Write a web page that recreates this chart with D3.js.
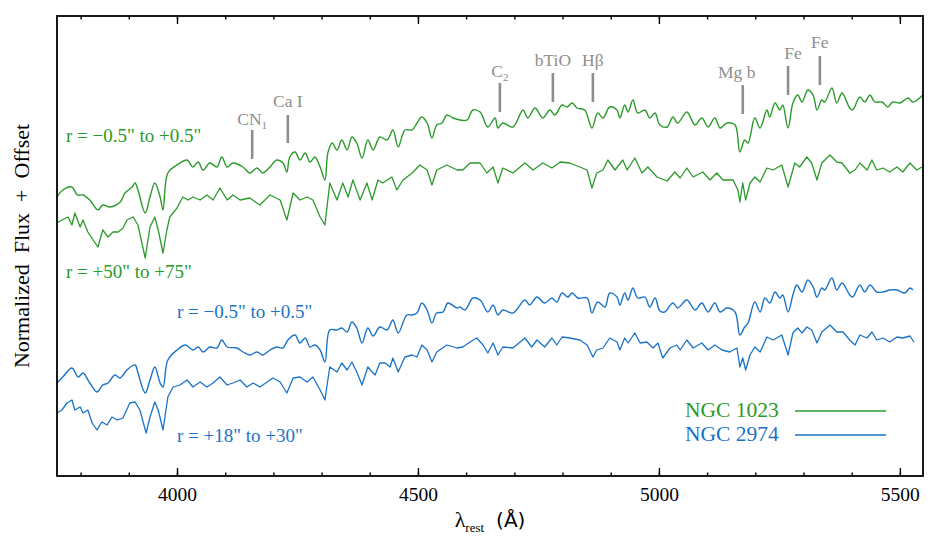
<!DOCTYPE html>
<html><head><meta charset="utf-8">
<script src="https://cdn.jsdelivr.net/npm/d3@7"></script>
<style>
html,body{margin:0;padding:0;background:#fff;}
svg{display:block;}
svg text{font-family:"Liberation Serif","Tinos","Times New Roman","DejaVu Serif",serif;}
</style></head>
<body>
<svg id="chart" width="941" height="549"></svg>
<script>
// ---------- DATA ----------
// wavelength (Å) , normalized flux + offset
const ngc1023Core = [
[3751,2.79],[3763,2.86],[3782,2.89],[3793,2.81],[3805,2.81],[3819,2.76],[3836,2.66],[3846,2.71],[3861,2.69],[3882,2.74],
[3892,2.83],[3907,2.89],[3913,2.93],[3919,2.86],[3934,2.63],[3944,2.79],[3954,2.93],[3965,2.79],[3971,2.66],[3981,3.03],
[4000,3.11],[4021,3.16],[4033,3.09],[4044,3.14],[4054,3.06],[4068,3.13],[4083,3.09],[4093,3.19],[4104,3.09],[4116,3.13],
[4137,3.09],[4151,3.03],[4166,3.08],[4178,3.03],[4193,3.09],[4207,3.16],[4220,3.13],[4228,3.04],[4234,3.19],[4245,3.24],
[4255,3.16],[4266,3.23],[4276,3.14],[4286,3.19],[4297,3.09],[4307,2.96],[4313,3.23],[4322,3.33],[4332,3.26],[4342,3.36],
[4353,3.26],[4363,3.39],[4373,3.33],[4384,3.18],[4396,3.36],[4407,3.26],[4421,3.39],[4436,3.36],[4448,3.46],[4459,3.29],
[4473,3.46],[4488,3.46],[4498,3.53],[4508,3.59],[4519,3.53],[4529,3.38],[4539,3.51],[4550,3.53],[4560,3.61],[4573,3.58],
[4587,3.56],[4602,3.56],[4614,3.66],[4629,3.64],[4645,3.49],[4660,3.58],[4666,3.48],[4676,3.53],[4697,3.49],[4718,3.66],
[4728,3.58],[4743,3.68],[4759,3.58],[4774,3.66],[4784,3.61],[4799,3.71],[4809,3.69],[4820,3.73],[4830,3.68],[4846,3.66],
[4861,3.48],[4873,3.63],[4884,3.58],[4898,3.69],[4913,3.66],[4919,3.58],[4929,3.71],[4936,3.64],[4946,3.76],[4956,3.63],
[4971,3.66],[4981,3.58],[4992,3.63],[5002,3.51],[5017,3.49],[5029,3.59],[5039,3.53],[5058,3.64],[5075,3.51],[5089,3.58],
[5102,3.49],[5116,3.58],[5127,3.48],[5141,3.53],[5158,3.51],[5168,3.24],[5178,3.36],[5185,3.33],[5199,3.58],[5210,3.48],
[5224,3.66],[5230,3.59],[5241,3.73],[5251,3.66],[5257,3.71],[5268,3.48],[5278,3.73],[5288,3.81],[5297,3.74],[5309,3.86],
[5320,3.81],[5328,3.66],[5338,3.76],[5344,3.74],[5359,3.88],[5369,3.73],[5380,3.83],[5396,3.68],[5402,3.66],[5417,3.79],
[5427,3.74],[5438,3.81],[5448,3.74],[5463,3.74],[5475,3.69],[5485,3.74],[5500,3.73],[5517,3.78],[5527,3.74],[5548,3.81]
];
const ngc1023Outer = [
[3751,2.53],[3761,2.56],[3774,2.59],[3782,2.51],[3788,2.63],[3799,2.49],[3805,2.56],[3815,2.44],[3826,2.36],[3836,2.29],
[3846,2.46],[3857,2.39],[3867,2.44],[3878,2.44],[3888,2.48],[3896,2.56],[3909,2.59],[3919,2.51],[3934,2.18],[3944,2.49],
[3954,2.59],[3961,2.46],[3971,2.23],[3979,2.46],[3985,2.59],[4000,2.68],[4012,2.79],[4023,2.76],[4033,2.79],[4048,2.76],
[4062,2.81],[4075,2.76],[4089,2.88],[4104,2.76],[4116,2.81],[4131,2.76],[4151,2.78],[4172,2.71],[4193,2.81],[4214,2.76],
[4228,2.56],[4241,2.83],[4255,2.76],[4270,2.79],[4282,2.76],[4297,2.59],[4307,2.51],[4317,2.93],[4332,2.76],[4344,2.93],
[4355,2.79],[4365,2.96],[4380,2.76],[4394,2.93],[4405,2.76],[4417,2.96],[4427,2.93],[4446,2.99],[4456,2.86],[4469,2.96],
[4488,3.03],[4504,3.11],[4519,3.06],[4529,2.91],[4539,3.06],[4560,3.11],[4581,3.06],[4593,3.06],[4608,3.13],[4629,3.13],
[4643,3.03],[4656,3.09],[4666,2.93],[4676,3.08],[4697,3.03],[4722,3.13],[4739,3.06],[4759,3.13],[4778,3.08],[4795,3.14],
[4815,3.13],[4836,3.09],[4851,3.06],[4861,2.88],[4871,3.03],[4884,3.06],[4894,3.16],[4909,3.06],[4925,3.16],[4934,3.06],
[4950,3.18],[4965,3.03],[4977,3.09],[4996,2.99],[5017,2.95],[5033,3.04],[5044,2.98],[5058,3.08],[5071,2.99],[5091,3.04],
[5106,2.96],[5120,3.03],[5133,2.96],[5154,2.96],[5164,2.86],[5168,2.74],[5174,2.93],[5180,2.76],[5189,2.93],[5199,2.99],
[5210,2.94],[5224,3.08],[5237,3.06],[5255,3.11],[5268,2.89],[5282,3.13],[5292,3.09],[5307,3.19],[5317,3.13],[5328,2.96],
[5338,3.13],[5355,3.21],[5369,3.14],[5380,3.13],[5396,3.03],[5407,3.06],[5417,3.13],[5432,3.06],[5442,3.16],[5452,3.06],
[5465,3.08],[5479,3.04],[5494,3.09],[5506,3.04],[5521,3.13],[5535,3.06],[5546,3.09]
];
const ngc2974Core = [
[3751,0.93],[3763,0.99],[3782,1.08],[3795,0.99],[3805,1.03],[3819,0.93],[3834,0.84],[3846,0.91],[3857,0.93],[3871,1.01],
[3882,0.98],[3896,1.06],[3913,1.11],[3919,1.03],[3934,0.83],[3944,0.96],[3954,1.09],[3965,0.93],[3971,0.89],[3981,1.16],
[4000,1.26],[4017,1.31],[4033,1.26],[4044,1.29],[4054,1.24],[4068,1.29],[4083,1.28],[4093,1.36],[4104,1.29],[4124,1.28],
[4137,1.24],[4151,1.21],[4166,1.24],[4178,1.21],[4193,1.26],[4207,1.29],[4220,1.28],[4230,1.36],[4245,1.41],[4255,1.33],
[4266,1.38],[4276,1.29],[4286,1.31],[4297,1.26],[4307,1.14],[4317,1.46],[4332,1.46],[4342,1.48],[4353,1.44],[4363,1.54],
[4373,1.48],[4384,1.33],[4396,1.48],[4407,1.40],[4421,1.49],[4436,1.46],[4448,1.56],[4459,1.43],[4477,1.61],[4488,1.61],
[4498,1.63],[4508,1.73],[4519,1.66],[4529,1.53],[4539,1.63],[4552,1.64],[4562,1.73],[4581,1.68],[4587,1.69],[4598,1.66],
[4614,1.78],[4629,1.76],[4645,1.64],[4656,1.71],[4666,1.61],[4676,1.66],[4697,1.63],[4722,1.76],[4732,1.71],[4747,1.79],
[4763,1.73],[4778,1.78],[4788,1.74],[4799,1.83],[4811,1.79],[4820,1.83],[4832,1.78],[4851,1.78],[4861,1.63],[4873,1.74],
[4888,1.69],[4898,1.83],[4913,1.79],[4919,1.71],[4929,1.83],[4936,1.76],[4946,1.88],[4956,1.78],[4971,1.79],[4981,1.69],
[4992,1.78],[5002,1.65],[5012,1.64],[5029,1.73],[5039,1.68],[5058,1.76],[5075,1.66],[5089,1.73],[5102,1.64],[5116,1.73],
[5127,1.64],[5141,1.68],[5158,1.64],[5168,1.41],[5178,1.49],[5185,1.53],[5199,1.74],[5210,1.64],[5220,1.78],[5230,1.73],
[5241,1.84],[5251,1.78],[5257,1.81],[5268,1.64],[5278,1.81],[5286,1.91],[5297,1.84],[5309,1.96],[5320,1.89],[5328,1.79],
[5338,1.88],[5344,1.86],[5359,1.98],[5369,1.86],[5380,1.93],[5396,1.81],[5402,1.79],[5417,1.91],[5427,1.84],[5438,1.91],
[5452,1.84],[5465,1.84],[5479,1.86],[5494,1.86],[5510,1.83],[5521,1.88],[5527,1.86]
];
const ngc2974Outer = [
[3751,0.63],[3761,0.66],[3772,0.73],[3782,0.76],[3788,0.66],[3799,0.69],[3805,0.63],[3815,0.66],[3824,0.53],[3834,0.46],
[3844,0.54],[3855,0.51],[3865,0.59],[3876,0.56],[3888,0.58],[3902,0.73],[3913,0.74],[3923,0.66],[3936,0.43],[3944,0.59],
[3954,0.74],[3961,0.66],[3971,0.46],[3981,0.79],[3992,0.89],[4006,0.91],[4021,0.96],[4033,0.89],[4048,0.94],[4062,0.89],
[4075,0.93],[4089,0.99],[4104,0.91],[4116,0.93],[4131,0.96],[4145,0.89],[4158,0.93],[4172,0.89],[4187,0.94],[4199,0.98],
[4214,0.94],[4228,0.83],[4241,0.98],[4255,0.99],[4270,0.94],[4282,0.99],[4297,0.86],[4307,0.76],[4317,1.09],[4332,1.04],
[4342,1.13],[4353,1.06],[4363,1.14],[4373,1.04],[4384,0.91],[4396,1.09],[4411,1.01],[4421,1.13],[4432,1.13],[4442,1.09],
[4448,1.18],[4459,1.04],[4473,1.19],[4488,1.21],[4498,1.19],[4508,1.31],[4519,1.26],[4529,1.14],[4539,1.24],[4560,1.31],
[4581,1.28],[4593,1.29],[4608,1.34],[4622,1.38],[4635,1.31],[4645,1.23],[4656,1.33],[4666,1.21],[4676,1.29],[4697,1.28],
[4722,1.38],[4736,1.29],[4747,1.36],[4763,1.29],[4778,1.38],[4788,1.31],[4799,1.39],[4815,1.38],[4836,1.36],[4851,1.31],
[4863,1.19],[4871,1.26],[4884,1.28],[4898,1.38],[4913,1.34],[4919,1.26],[4929,1.38],[4936,1.33],[4950,1.43],[4961,1.33],
[4975,1.34],[4988,1.28],[4998,1.33],[5008,1.18],[5023,1.28],[5037,1.31],[5044,1.26],[5058,1.36],[5071,1.28],[5089,1.33],
[5102,1.26],[5116,1.31],[5131,1.26],[5147,1.24],[5162,1.28],[5168,1.09],[5174,1.18],[5180,1.06],[5189,1.21],[5199,1.29],
[5210,1.24],[5224,1.39],[5237,1.36],[5255,1.41],[5268,1.21],[5278,1.43],[5288,1.48],[5297,1.43],[5307,1.49],[5317,1.46],
[5328,1.33],[5338,1.44],[5355,1.51],[5369,1.44],[5382,1.44],[5396,1.36],[5407,1.31],[5417,1.41],[5432,1.38],[5442,1.44],
[5452,1.36],[5465,1.38],[5479,1.34],[5494,1.39],[5506,1.38],[5521,1.40],[5529,1.34]
];
// feature markers: name, wavelength, line bottom, line top, label baseline (flux units)
const featureNames = ["CN", "Ca I", "C", "bTiO", "Hβ", "Mg b", "Fe", "Fe"];
const featureSubs  = ["1", "", "2", "", "", "", "", ""];
const featureWl    = [4156, 4230, 4670, 4780, 4863, 5174, 5268, 5334];
const featureLow   = [3.17, 3.33, 3.64, 3.74, 3.74, 3.62, 3.81, 3.91];
const featureHigh  = [3.46, 3.61, 3.93, 4.03, 4.03, 3.91, 4.10, 4.20];
const featureText  = [3.51, 3.69, 3.99, 4.10, 4.10, 3.98, 4.17, 4.28];
const xTicksMajor = [4000, 4500, 5000, 5500];
const xTicksMinor = [3800,3900,4000,4100,4200,4300,4400,4500,4600,4700,4800,4900,5000,5100,5200,5300,5400,5500];
const galaxies = ["NGC 1023", "NGC 2974"];
const radiusLabels = ["r = −0.5\" to +0.5\"", "r = +50\" to +75\"", "r = −0.5\" to +0.5\"", "r = +18\" to +30\""];

// ---------- LAYOUT ----------
const m = {l: 57, r: 923, t: 16, b: 476};
const green = "#2b9a2b", blue = "#1a73c8", gray = "#8e8e8e";

const svg = d3.select("#chart");
const x = d3.scaleLinear().domain([3751, 5548]).range([m.l, m.r]);
const y = d3.scaleLinear().domain([0, 4.6]).range([m.b, m.t]);

svg.append("clipPath").attr("id","clip").append("rect")
  .attr("x", m.l).attr("y", m.t).attr("width", m.r - m.l).attr("height", m.b - m.t);

const line = d3.line().x(d => x(d[0])).y(d => y(d[1]));
const smooth = d3.line().x(d => x(d[0])).y(d => y(d[1])).curve(d3.curveCatmullRom.alpha(0.5));

const g = svg.append("g").attr("clip-path","url(#clip)");
const series = [
  {data: ngc1023Core, color: green, gen: smooth, w: 1.4},
  {data: ngc1023Outer, color: green, gen: line, w: 1.3},
  {data: ngc2974Core, color: blue, gen: smooth, w: 1.4},
  {data: ngc2974Outer, color: blue, gen: line, w: 1.3}
];
g.selectAll("path.spec").data(series).join("path")
  .attr("class","spec")
  .attr("d", d => d.gen(d.data))
  .attr("fill","none").attr("stroke", d => d.color).attr("stroke-width", d => d.w)
  .attr("stroke-linejoin","round");

// feature markers
const feats = featureNames.map((n,i) => ({n, s: featureSubs[i], wl: featureWl[i], lo: featureLow[i], hi: featureHigh[i], t: featureText[i]}));
svg.selectAll("line.feat").data(feats).join("line")
  .attr("class","feat")
  .attr("x1", d => x(d.wl)).attr("x2", d => x(d.wl))
  .attr("y1", d => y(d.lo)).attr("y2", d => y(d.hi))
  .attr("stroke", gray).attr("stroke-width", 2.6);
const ft = svg.selectAll("text.feat").data(feats).join("text")
  .attr("class","feat")
  .attr("x", d => x(d.wl)).attr("y", d => y(d.t))
  .attr("text-anchor","middle")
  .attr("font-size", 17.5).attr("fill", gray);
ft.each(function(d){
  const t = d3.select(this);
  t.append("tspan").text(d.n);
  if (d.s) t.append("tspan").attr("font-size", 11).attr("dy", 4).text(d.s);
});
ft.filter(d => d.n === "Mg b").attr("dx", -6);
ft.filter(d => d.n === "Fe" && d.wl === 5268).attr("dx", 5);

// radius labels
const rl = [
  {t: radiusLabels[0], c: green, x: 66, y: 142},
  {t: radiusLabels[1], c: green, x: 66, y: 278},
  {t: radiusLabels[2], c: blue, x: 177, y: 318},
  {t: radiusLabels[3], c: blue, x: 177, y: 442}
];
svg.selectAll("text.rl").data(rl).join("text")
  .attr("class","rl")
  .attr("x", d => d.x).attr("y", d => d.y)
  .attr("font-size", 19).attr("fill", d => d.c)
  .text(d => d.t);

// legend
const leg = [{t: galaxies[0], c: green, y: 417}, {t: galaxies[1], c: blue, y: 441}];
svg.selectAll("text.leg").data(leg).join("text")
  .attr("class","leg")
  .attr("x", 685).attr("y", d => d.y)
  .attr("font-size", 21.5).attr("fill", d => d.c)
  .text(d => d.t);
svg.selectAll("line.leg").data(leg).join("line")
  .attr("class","leg")
  .attr("x1", 795).attr("x2", 886).attr("y1", d => d.y - 6).attr("y2", d => d.y - 6)
  .attr("stroke", d => d.c).attr("stroke-width", 1.6);

// axes
function styleAxis(sel){
  sel.attr("font-family", null);
  sel.select(".domain").remove();
  sel.selectAll("line").attr("stroke","#000").attr("stroke-width",1.4);
  sel.selectAll("text").attr("font-size", 19.5).attr("fill","#000");
}
svg.append("g").attr("transform",`translate(0,${m.b})`)
  .call(d3.axisBottom(x).tickValues(xTicksMinor).tickSize(-3.5).tickFormat(""))
  .call(styleAxis);
svg.append("g").attr("transform",`translate(0,${m.b})`)
  .call(d3.axisBottom(x).tickValues(xTicksMajor).tickSize(-8).tickPadding(11).tickFormat(d3.format("d")))
  .call(styleAxis);
svg.append("g").attr("transform",`translate(0,${m.t})`)
  .call(d3.axisTop(x).tickValues(xTicksMinor).tickSize(-3.5).tickFormat(""))
  .call(styleAxis);
svg.append("g").attr("transform",`translate(0,${m.t})`)
  .call(d3.axisTop(x).tickValues(xTicksMajor).tickSize(-8).tickFormat(""))
  .call(styleAxis);

// frame
svg.append("rect").attr("x", m.l).attr("y", m.t).attr("width", m.r - m.l).attr("height", m.b - m.t)
  .attr("fill","none").attr("stroke","#000").attr("stroke-width",1.8);

// axis titles
const xt = svg.append("text").attr("x", 490).attr("y", 527).attr("text-anchor","middle")
  .attr("font-size", 22).attr("fill","#000");
xt.append("tspan").text("λ");
xt.append("tspan").attr("font-size", 13).attr("dy", 5).text("rest");
xt.append("tspan").attr("dy", -5).attr("font-size", 20).attr("dx", 12)
  .style("font-family","'DejaVu Sans', sans-serif").text("(Å)");

svg.append("text").attr("transform", `translate(29,${(m.t + m.b)/2}) rotate(-90)`)
  .attr("text-anchor","middle").attr("font-size", 22)
  .attr("fill","#000").style("white-space","pre")
  .text("Normalized  Flux  +  Offset");
</script>
</body></html>
